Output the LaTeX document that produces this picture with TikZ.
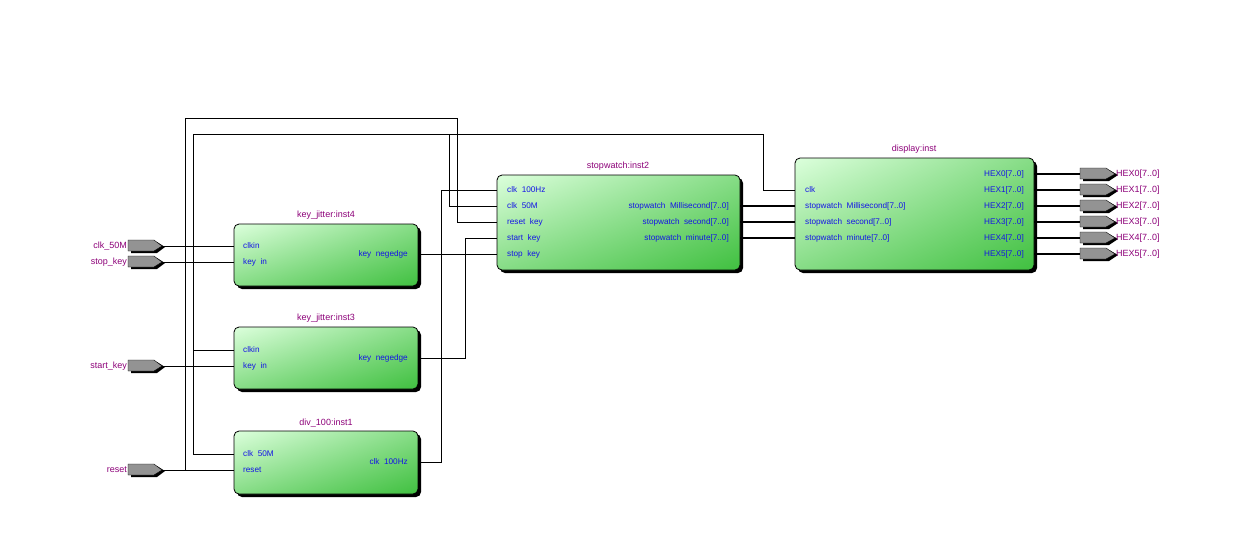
\documentclass[tikz,border=0pt]{standalone}
\usepackage{fontspec}
\setmainfont{Liberation Sans}
\usetikzlibrary{shadings}
\definecolor{pblue}{RGB}{20,20,230}
\definecolor{ppurp}{RGB}{140,0,120}
\definecolor{gdark}{RGB}{64,192,64}
\definecolor{glight}{RGB}{220,255,220}
\begin{document}
\begin{tikzpicture}[x=1pt,y=-1pt,
  port/.style={font=\fontsize{8.2}{9}\selectfont,text=pblue,inner sep=0pt},
  ttl/.style={font=\fontsize{9}{10}\selectfont,text=ppurp,inner sep=0pt,anchor=south},
  pinlbl/.style={font=\fontsize{9}{10}\selectfont,text=ppurp,inner sep=0pt},
  wire/.style={draw=black,line width=0.9pt},
  bus/.style={draw=black,line width=2.2pt}]
\useasboundingbox (0,0) rectangle (1246,541);
\newcommand\blk[5]{% name x1 y1 x2 y2
  \fill[black,rounded corners=5] (#2+3,#3+3) rectangle (#4+3,#5+3);
  \shade[rounded corners=5,upper left=glight,lower right=gdark,upper right=gdark!55!glight,lower left=gdark!55!glight] (#2,#3) rectangle (#4,#5);
  \draw[rounded corners=5,line width=0.8pt] (#2,#3) rectangle (#4,#5);
  \coordinate (#1) at (#2,#3);}
\newcommand\inpin[3]{% name y label
  \fill[black] (131,#2-4) -- (157,#2-4) -- (165,#2+1) -- (157,#2+7) -- (131,#2+7) -- cycle;
  \filldraw[fill=gray!85,draw=black,line width=0.4pt] (128,#2-6) -- (154,#2-6) -- (162,#2) -- (154,#2+5) -- (128,#2+5) -- cycle;
  \coordinate (#1) at (162,#2);
  \node[pinlbl,anchor=east] at (127,#2) {#3};}
\newcommand\outpin[3]{%
  \fill[black] (1083,#2-4) -- (1109,#2-4) -- (1118,#2+1) -- (1109,#2+7) -- (1083,#2+7) -- cycle;
  \filldraw[fill=gray!85,draw=black,line width=0.4pt] (1080,#2-6) -- (1106,#2-6) -- (1115,#2) -- (1106,#2+5) -- (1080,#2+5) -- cycle;
  \coordinate (#1) at (1080,#2);
  \node[pinlbl,anchor=west] at (1116,#2) {#3};}
% blocks
\blk{ki4}{234}{224}{418}{286}
\blk{ki3}{234}{327}{418}{389}
\blk{dv}{234}{431}{418}{494}
\blk{sw}{497}{175}{740}{270}
\blk{dp}{795}{158}{1034}{270}
\node[ttl] at (326,220) {key\_jitter:inst4};
\node[ttl] at (326,323) {key\_jitter:inst3};
\node[ttl] at (326,427) {div\_100:inst1};
\node[ttl] at (618,171) {stopwatch:inst2};
\node[ttl] at (914,154) {display:inst};
% ports
\foreach \y/\t in {246/clkin,262/key\ \ in} {\node[port,anchor=west] at (243,\y) {\t};}
\foreach \y/\t in {350/clkin,366/key\ \ in} {\node[port,anchor=west] at (243,\y) {\t};}
\foreach \y/\t in {454/clk\ \ 50M,470/reset} {\node[port,anchor=west] at (243,\y) {\t};}
\node[port,anchor=east] at (408,254) {key\ \ negedge};
\node[port,anchor=east] at (408,358) {key\ \ negedge};
\node[port,anchor=east] at (408,462) {clk\ \ 100Hz};
\foreach \y/\t in {190/clk\ \ 100Hz,206/clk\ \ 50M,222/reset\ \ key,238/start\ \ key,254/stop\ \ key} {\node[port,anchor=west] at (507,\y) {\t};}
\foreach \y/\t in {206/stopwatch\ \ Millisecond[7..0],222/stopwatch\ \ second[7..0],238/stopwatch\ \ minute[7..0]} {\node[port,anchor=east] at (729,\y) {\t};}
\foreach \y/\t in {190/clk,206/stopwatch\ \ Millisecond[7..0],222/stopwatch\ \ second[7..0],238/stopwatch\ \ minute[7..0]} {\node[port,anchor=west] at (805,\y) {\t};}
\foreach \i/\y in {0/174,1/190,2/206,3/222,4/238,5/254} {\node[port,anchor=east] at (1024,\y) {HEX\i[7..0]};}
% pins
\inpin{pclk}{246}{clk\_50M}
\inpin{pstop}{262}{stop\_key}
\inpin{pstart}{366}{start\_key}
\inpin{preset}{470}{reset}
\foreach \i/\y in {0/174,1/190,2/206,3/222,4/238,5/254} {\outpin{ph\i}{\y}{HEX\i[7..0]}}
% wires
\coordinate (kc4) at (234,246); \coordinate (kk4) at (234,262);
\coordinate (kc3) at (234,350); \coordinate (kk3) at (234,366);
\coordinate (dc) at (234,454); \coordinate (dr) at (234,470);
\draw[wire] (pclk) -- (kc4);
\draw[wire] (pstop) -- (kk4);
\draw[wire] (pstart) -- (kk3);
\draw[wire] (preset) -- (dr);
\draw[wire] (185,470) -- (185,118) -- (457,118) -- (457,222) -- (497,222);
\draw[wire] (193,246) -- (193,454) -- (dc);
\draw[wire] (193,350) -- (kc3);
\draw[wire] (193,246) -- (193,134) -- (763,134) -- (763,190) -- (795,190);
\draw[wire] (449,134) -- (449,206) -- (497,206);
\draw[wire] (418,254) -- (497,254);
\draw[wire] (418,358) -- (465,358) -- (465,238) -- (497,238);
\draw[wire] (418,462) -- (441,462) -- (441,190) -- (497,190);
\foreach \y in {206,222,238} {\draw[bus] (740,\y) -- (795,\y);}
\foreach \i/\y in {0/174,1/190,2/206,3/222,4/238,5/254} {\draw[bus] (1034,\y) -- (ph\i);}
\end{tikzpicture}
\end{document}
